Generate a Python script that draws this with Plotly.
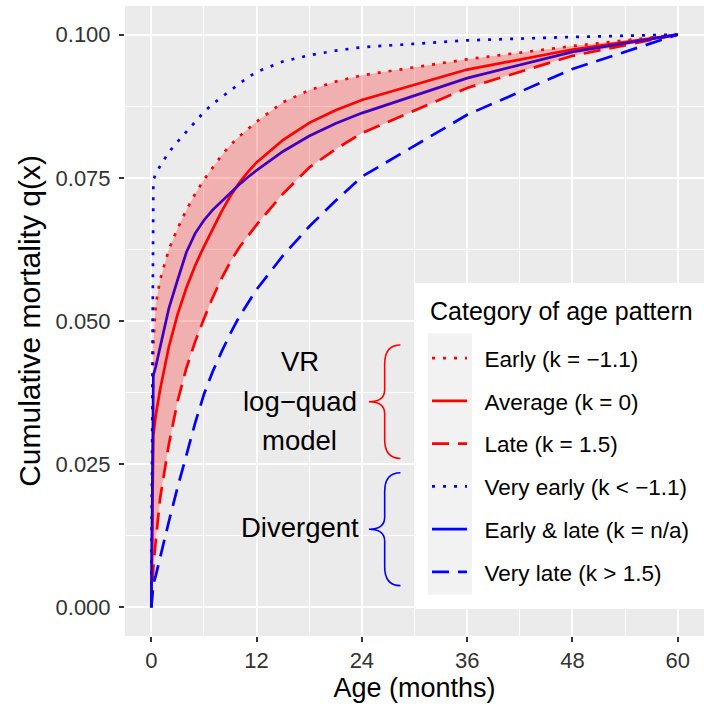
import plotly.graph_objects as go

# ---------------- data ----------------
ages = [0, 0.23, 0.5, 1, 2, 3, 4, 5, 6, 7, 8, 9, 10, 11, 12, 15, 18, 21, 24, 36, 48, 60]

q_early = [0, 0.046, 0.0528, 0.0572, 0.0625, 0.0662, 0.0694, 0.0722, 0.0747, 0.0769, 0.0789,
           0.0807, 0.0822, 0.0835, 0.0848, 0.0882, 0.0903, 0.0918, 0.0929, 0.0957, 0.0980, 0.1]
q_average = [0, 0.030, 0.0335, 0.0380, 0.0455, 0.0512, 0.0558, 0.0597, 0.0630, 0.0662, 0.0691,
             0.0718, 0.0741, 0.0760, 0.0777, 0.0816, 0.0846, 0.0868, 0.0886, 0.0939, 0.0974, 0.1]
q_late = [0, 0.0070, 0.0115, 0.0190, 0.0285, 0.0360, 0.0418, 0.0464, 0.0504, 0.0541, 0.0574,
          0.0603, 0.0628, 0.0649, 0.0668, 0.0722, 0.0768, 0.0800, 0.0828, 0.0907, 0.0963, 0.1]
q_very_early = [0, 0.0745, 0.0758, 0.0770, 0.0795, 0.0813, 0.0831, 0.0848, 0.0865, 0.0879, 0.0891,
                0.0903, 0.0914, 0.0925, 0.0935, 0.0953, 0.0964, 0.0972, 0.0978, 0.0990, 0.0996, 0.1]
q_early_late = [0, 0.0405, 0.0420, 0.0455, 0.0522, 0.0572, 0.0620, 0.0653, 0.0676, 0.0694, 0.0709,
                0.0724, 0.0738, 0.0751, 0.0763, 0.0796, 0.0823, 0.0845, 0.0863, 0.0924, 0.0970, 0.1]
q_very_late = [0, 0.0040, 0.0055, 0.0088, 0.0150, 0.0210, 0.0266, 0.0322, 0.0372, 0.0412, 0.0446,
               0.0478, 0.0507, 0.0532, 0.0555, 0.0614, 0.0665, 0.0710, 0.0752, 0.0860, 0.0940, 0.1]

names = ["Early (k = \u22121.1)", "Average (k = 0)", "Late (k = 1.5)",
         "Very early (k < \u22121.1)", "Early & late (k = n/a)", "Very late (k > 1.5)"]
series = [q_early, q_average, q_late, q_very_early, q_early_late, q_very_late]
colors = ["#FF0000", "#FF0000", "#FF0000", "#0000FF", "#0000FF", "#0000FF"]
dashes = ["3px,8px", "solid", "17px,9px", "3px,8px", "solid", "17px,9px"]

legend_title = "Category of age pattern"

x_ticks = [0, 12, 24, 36, 48, 60]
y_ticks = [0.0, 0.025, 0.05, 0.075, 0.1]
y_ticktext = ["0.000", "0.025", "0.050", "0.075", "0.100"]

FONT = "Liberation Sans, Arial, sans-serif"
PAD = "\u00a0\u00a0"

fig = go.Figure()
for i, (name, ys, col, dsh) in enumerate(zip(names, series, colors, dashes)):
    fig.add_trace(go.Scatter(x=ages, y=ys, mode="lines", name=PAD + name, legendgroup=f"g{i}",
                             line=dict(color=col, width=2.7, dash=dsh)))

# ribbon between Late and Early, drawn on top with transparency
fig.add_trace(go.Scatter(x=ages, y=q_late, mode="lines", line=dict(width=0, color="rgba(0,0,0,0)"),
                         showlegend=False, hoverinfo="skip", legendgroup="r"))
fig.add_trace(go.Scatter(x=ages, y=q_early, mode="lines", line=dict(width=0, color="rgba(0,0,0,0)"),
                         fill="tonexty", fillcolor="rgba(255,0,0,0.25)",
                         showlegend=False, hoverinfo="skip", legendgroup="r"))


def brace(x_end, x_mid, x_tip, y_top, y_bot, ry, ry2):
    y_c = (y_top + y_bot) / 2
    return (f"M{x_end},{y_top} Q{x_mid},{y_top} {x_mid},{y_top - ry} "
            f"L{x_mid},{y_c + ry2} Q{x_mid},{y_c} {x_tip},{y_c} "
            f"Q{x_mid},{y_c} {x_mid},{y_c - ry2} "
            f"L{x_mid},{y_bot + ry} Q{x_mid},{y_bot} {x_end},{y_bot}")


shapes = [
    # legend background box
    dict(type="rect", xref="paper", yref="paper", x0=(415 - 125) / 579, x1=1.0, y0=(636 - 609) / 630,
         y1=(636 - 283) / 630, fillcolor="white", line=dict(width=0), layer="above"),
    # legend key column
    dict(type="rect", xref="paper", yref="paper", x0=(428 - 125) / 579, x1=(472 - 125) / 579,
         y0=(636 - 595) / 630, y1=(636 - 333) / 630, fillcolor="#F2F2F2",
         line=dict(width=0), layer="above"),
    dict(type="path", xref="x", yref="y", path=brace(28.4, 26.6, 24.8, 0.0458, 0.0260, 0.0033, 0.0021),
         line=dict(color="#FF0000", width=1.6)),
    dict(type="path", xref="x", yref="y", path=brace(28.4, 26.6, 24.8, 0.0235, 0.0038, 0.0033, 0.0021),
         line=dict(color="#0000FF", width=1.6)),
]

annotations = []
for txt, yv in [("VR", 0.0430), ("log\u2212quad", 0.0359), ("model", 0.0292), ("Divergent", 0.0140)]:
    annotations.append(dict(x=16.9, y=yv, xref="x", yref="y", text=txt, showarrow=False,
                            font=dict(family=FONT, size=27.5, color="black"),
                            xanchor="center", yanchor="middle"))
annotations.append(dict(x=(428 - 125) / 579, y=(636 - 311) / 630, xref="paper", yref="paper",
                        text=legend_title, showarrow=False, xanchor="left", yanchor="middle",
                        font=dict(family=FONT, size=25, color="black")))

fig.update_layout(
    width=704, height=706,
    margin=dict(l=125, r=0, t=6, b=70),
    paper_bgcolor="white", plot_bgcolor="#EBEBEB",
    font=dict(family=FONT, color="black"),
    shapes=shapes, annotations=annotations,
    legend=dict(
        x=(427 - 125) / 579, y=(636 - 337) / 630, xanchor="left", yanchor="top",
        bgcolor="rgba(0,0,0,0)", borderwidth=0,
        font=dict(family=FONT, size=22.5, color="black"),
        tracegroupgap=10.5, traceorder="grouped", itemwidth=35,
    ),
    xaxis=dict(range=[-3, 63], tickvals=x_ticks, ticktext=[str(v) for v in x_ticks],
               showgrid=True, gridcolor="white", gridwidth=2, zeroline=False,
               minor=dict(dtick=6, tick0=0, showgrid=True, gridcolor="white", gridwidth=1, ticks=""),
               ticks="outside", ticklen=5, tickwidth=2, tickcolor="#333333",
               tickfont=dict(family=FONT, size=22, color="#333333"),
               title=dict(text="Age (months)", font=dict(family=FONT, size=27, color="black"), standoff=4),
               showline=False),
    yaxis=dict(range=[-0.005, 0.105], tickvals=y_ticks, ticktext=y_ticktext,
               showgrid=True, gridcolor="white", gridwidth=2, zeroline=False,
               minor=dict(dtick=0.0125, tick0=0, showgrid=True, gridcolor="white", gridwidth=1, ticks=""),
               ticks="outside", ticklen=5, tickwidth=2, tickcolor="#333333",
               tickfont=dict(family=FONT, size=22, color="#333333"), ticklabelstandoff=4,
               title=dict(text="Cumulative mortality q(x)", font=dict(family=FONT, size=30, color="black"),
                          standoff=6),
               showline=False),
)

fig.write_html("out.html")
